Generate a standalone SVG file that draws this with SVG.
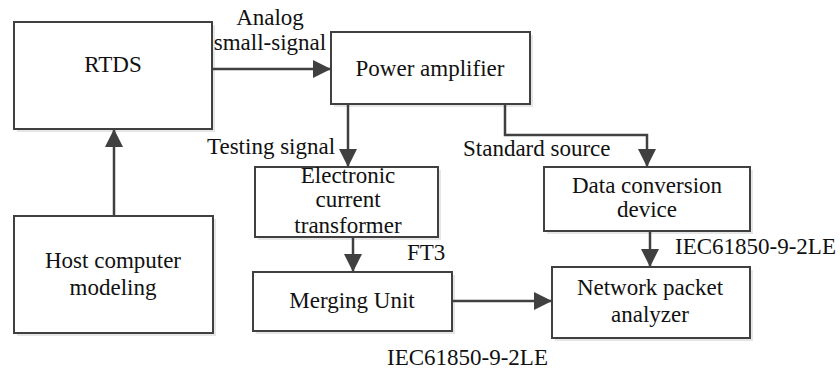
<svg xmlns="http://www.w3.org/2000/svg" width="840" height="372" viewBox="0 0 840 372">
<style>
.box{fill:#fff;stroke:#404040;stroke-width:2}
.sh{fill:#e6e6e6}
.t{font-family:'Liberation Serif','Times New Roman',Tinos,'DejaVu Serif',serif;font-size:23px;fill:#111}
.c{text-anchor:middle}
.ln{fill:none;stroke:#404040;stroke-width:2.5}
</style>
<defs>
<marker id="ah" markerUnits="userSpaceOnUse" markerWidth="18" markerHeight="18" viewBox="0 0 18 18" refX="18" refY="9" orient="auto">
<path d="M0,0 L18,9 L0,18 Z" fill="#404040"/>
</marker>
</defs>
<rect width="840" height="372" fill="#fff"/>
<g id="rtds">
<rect class="sh" x="17" y="25" width="198" height="107"/>
<rect class="box" x="14" y="22" width="198" height="107"/>
<text class="t c" x="113" y="72">RTDS</text>
</g>
<g id="host">
<rect class="sh" x="17" y="219" width="199" height="117"/>
<rect class="box" x="14" y="216" width="199" height="117"/>
<text class="t c" x="113" y="268">Host computer</text>
<text class="t c" x="113" y="295">modeling</text>
</g>
<g id="power">
<rect class="sh" x="334" y="35" width="199" height="72"/>
<rect class="box" x="331" y="32" width="199" height="72"/>
<text class="t c" x="430" y="76">Power amplifier</text>
</g>
<g id="ect">
<rect class="sh" x="258" y="170" width="183" height="70"/>
<rect class="box" x="255" y="167" width="183" height="70"/>
<text class="t c" x="348" y="183">Electronic</text>
<text class="t c" x="348" y="207">current</text>
<text class="t c" x="348" y="233">transformer</text>
</g>
<g id="mu">
<rect class="sh" x="256" y="275" width="199" height="59"/>
<rect class="box" x="253" y="272" width="199" height="59"/>
<text class="t c" x="352" y="308">Merging Unit</text>
</g>
<g id="dcd">
<rect class="sh" x="547" y="170" width="206" height="64"/>
<rect class="box" x="544" y="167" width="206" height="64"/>
<text class="t c" x="647" y="193">Data conversion</text>
<text class="t c" x="647" y="217">device</text>
</g>
<g id="npa">
<rect class="sh" x="555" y="270" width="198" height="71"/>
<rect class="box" x="552" y="267" width="198" height="71"/>
<text class="t c" x="650" y="295">Network packet</text>
<text class="t c" x="650" y="322">analyzer</text>
</g>
<g id="connectors">
<path class="ln" d="M212,69 L331,69" marker-end="url(#ah)"/>
<path class="ln" d="M114,216 L114,129" marker-end="url(#ah)"/>
<path class="ln" d="M348,104 L348,167" marker-end="url(#ah)"/>
<path class="ln" d="M505,104 L505,135 L647,135 L647,167" marker-end="url(#ah)"/>
<path class="ln" d="M353,237 L353,272" marker-end="url(#ah)"/>
<path class="ln" d="M650,231 L650,267" marker-end="url(#ah)"/>
<path class="ln" d="M452,301 L552,301" marker-end="url(#ah)"/>
</g>
<g id="labels">
<text class="t c" x="270" y="25">Analog</text>
<text class="t c" x="270" y="50">small-signal</text>
<text class="t" x="207" y="154">Testing signal</text>
<text class="t" x="463" y="156">Standard source</text>
<text class="t" x="407" y="260">FT3</text>
<text class="t" x="675" y="254">IEC61850-9-2LE</text>
<text class="t" x="387" y="365">IEC61850-9-2LE</text>
</g>
</svg>
